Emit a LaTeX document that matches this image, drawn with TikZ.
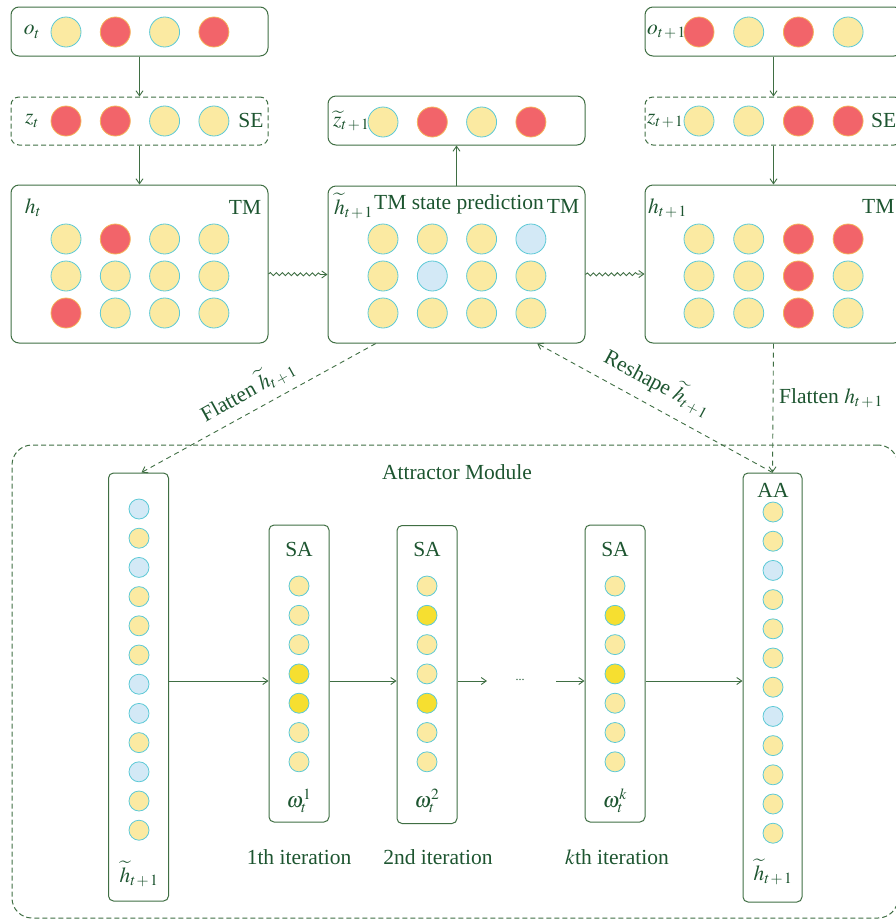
\documentclass[tikz,border=0pt]{standalone}
\usepackage{mathptmx}
\usepackage[no-math]{fontspec}
\setmainfont{Liberation Serif}
\DeclareMathSizes{21.5}{21.5}{15.5}{11}
\usetikzlibrary{arrows.meta,decorations.pathmorphing,calc}
\definecolor{lineg}{HTML}{3F6E43}
\definecolor{textg}{HTML}{1D5530}
\definecolor{yfill}{HTML}{FBEAA2}
\definecolor{cyb}{HTML}{5CC9D6}
\definecolor{rfill}{HTML}{F2646A}
\definecolor{rbord}{HTML}{F4B45A}
\definecolor{bfill}{HTML}{D3E9F6}
\definecolor{gyfill}{HTML}{F6DF30}
\newcommand{\tpo}{t\mkern1.5mu{+}\mkern1.5mu1}
\begin{document}
\begin{tikzpicture}[x=1pt,y=-1pt,
  font=\fontsize{21.5}{25}\selectfont, text=textg,
  box/.style={draw=lineg, line width=1pt, rounded corners=8pt, rectangle, inner sep=0pt},
  dbox/.style={box, dash pattern=on 5pt off 3pt},
  cy/.style={circle, draw=cyb, fill=yfill, line width=0.8pt, minimum size=30pt, inner sep=0pt},
  cr/.style={cy, fill=rfill, draw=rbord},
  cb/.style={cy, fill=bfill},
  sy/.style={cy, minimum size=20pt},
  sb/.style={cb, minimum size=20pt},
  sg/.style={cy, fill=gyfill, minimum size=20pt},
  arr/.style={draw=lineg, line width=0.9pt, -{Straight Barb[length=5pt,width=7pt]}},
  darr/.style={arr, dash pattern=on 5pt off 4pt},
  wavy/.style={arr, decorate, decoration={snake, amplitude=1.5pt, segment length=6pt, post length=5pt}},
  lbl/.style={inner sep=0pt}
]
\useasboundingbox (0,0) rectangle (896,922);
\clip (0,0) rectangle (896,922);

% ---------- top-left column ----------
\node[box, minimum width=257pt, minimum height=49pt] (ot) at (139.5,31.5) {};
\node[dbox, minimum width=257pt, minimum height=48pt] (zt) at (139.5,121) {};
\node[box, minimum width=257pt, minimum height=158pt] (ht) at (139.5,264) {};
% ---------- middle column ----------
\node[box, minimum width=257pt, minimum height=49pt] (zp) at (456.5,120.5) {};
\node[box, minimum width=257pt, minimum height=157pt] (hp) at (456.5,264.5) {};
% ---------- right column ----------
\node[box, minimum width=257pt, minimum height=49pt] (ot1) at (773.5,31.5) {};
\node[dbox, minimum width=257pt, minimum height=48pt] (zt1) at (773.5,121) {};
\node[box, minimum width=257pt, minimum height=158pt] (ht1) at (773.5,264) {};

% circles, rows of four
\foreach \c [count=\i] in {cy,cr,cy,cr} \node[\c] (oc\i) at ({66+49.3*(\i-1)},32) {};
\foreach \c [count=\i] in {cr,cr,cy,cy} \node[\c] (zc\i) at ({66+49.3*(\i-1)},121) {};
\foreach \c [count=\i] in {cy,cr,cy,cy} \node[\c] (hca\i) at ({66+49.3*(\i-1)},239) {};
\foreach \c [count=\i] in {cy,cy,cy,cy} \node[\c] (hcb\i) at ({66+49.3*(\i-1)},276) {};
\foreach \c [count=\i] in {cr,cy,cy,cy} \node[\c] (hcc\i) at ({66+49.3*(\i-1)},313) {};

\foreach \c [count=\i] in {cy,cr,cy,cr} \node[\c] (pzc\i) at ({383+49.3*(\i-1)},122) {};
\foreach \c [count=\i] in {cy,cy,cy,cb} \node[\c] (pha\i) at ({383+49.3*(\i-1)},239) {};
\foreach \c [count=\i] in {cy,cb,cy,cy} \node[\c] (phb\i) at ({383+49.3*(\i-1)},276) {};
\foreach \c [count=\i] in {cy,cy,cy,cy} \node[\c] (phc\i) at ({383+49.3*(\i-1)},313) {};

\foreach \c [count=\i] in {cr,cy,cr,cy} \node[\c] (roc\i) at ({699+49.7*(\i-1)},32) {};
\foreach \c [count=\i] in {cy,cy,cr,cr} \node[\c] (rzc\i) at ({699+49.7*(\i-1)},121) {};
\foreach \c [count=\i] in {cy,cy,cr,cr} \node[\c] (rha\i) at ({699+49.7*(\i-1)},239) {};
\foreach \c [count=\i] in {cy,cy,cr,cy} \node[\c] (rhb\i) at ({699+49.7*(\i-1)},276) {};
\foreach \c [count=\i] in {cy,cy,cr,cy} \node[\c] (rhc\i) at ({699+49.7*(\i-1)},313) {};

% labels top
\node[lbl] (lot) at (32,32) {$o_t$};
\node[lbl] (lzt) at (32,121) {$z_t$};
\node[lbl] (lse) at (251,120) {SE};
\node[lbl] (lht) at (33,208) {$h_t$};
\node[lbl] (ltm) at (245,207) {TM};
\node[lbl, anchor=west] (lzp) at (333,121) {$\widetilde{z}_{\tpo}$};
\node[lbl, anchor=west] (lhp) at (334,206) {$\widetilde{h}_{\tpo}$};
\node[lbl] (ltsp) at (459,204) {TM state prediction};
\node[lbl] (ltm2) at (563,206) {TM};
\node[lbl, anchor=west] (lot1) at (647,32) {$o_{\tpo}$};
\node[lbl, anchor=west] (lzt1) at (647,121) {$z_{\tpo}$};
\node[lbl, anchor=west] (lse1) at (871,120) {SE};
\node[lbl, anchor=west] (lht1) at (648,208) {$h_{\tpo}$};
\node[lbl, anchor=west] (ltm3) at (862,206) {TM};

% top connectors
\draw[arr] (ot.south) -- (zt.north);
\draw[arr] (zt.south) -- (ht.north);
\draw[arr] (hp.north) -- (zp.south);
\draw[arr] (ot1.south) -- (zt1.north);
\draw[arr] (zt1.south) -- (ht1.north);
\draw[wavy] ($(ht.east)+(0,10)$) -- ($(hp.west)+(0,10)$);
\draw[wavy] ($(hp.east)+(0,10)$) -- ($(ht1.west)+(0,10)$);

% ---------- attractor module ----------
\node[dbox, rounded corners=20pt, minimum width=886pt, minimum height=473pt] (am) at (455,681.5) {};
\node[lbl] (lam) at (457,472) {Attractor Module};

\node[box, rounded corners=5pt, minimum width=60pt, minimum height=428pt] (lc) at (138.5,687) {};
\node[box, rounded corners=5pt, minimum width=60pt, minimum height=297pt] (sa1) at (299,673.5) {};
\node[box, rounded corners=5pt, minimum width=60pt, minimum height=298pt] (sa2) at (427,674.5) {};
\node[box, rounded corners=5pt, minimum width=60pt, minimum height=297pt] (sak) at (615,673.5) {};
\node[box, rounded corners=5pt, minimum width=59pt, minimum height=429pt] (aa) at (772.5,687.5) {};

\foreach \c [count=\i] in {sb,sy,sb,sy,sy,sy,sb,sb,sy,sb,sy,sy} \node[\c] (lcc\i) at (139,{509+29.2*(\i-1)}) {};
\foreach \c [count=\i] in {sy,sy,sy,sg,sg,sy,sy} \node[\c] (s1c\i) at (299,{586+29.3*(\i-1)}) {};
\foreach \c [count=\i] in {sy,sg,sy,sy,sg,sy,sy} \node[\c] (s2c\i) at (427,{586+29.3*(\i-1)}) {};
\foreach \c [count=\i] in {sy,sg,sy,sg,sy,sy,sy} \node[\c] (skc\i) at (615,{586+29.3*(\i-1)}) {};
\foreach \c [count=\i] in {sy,sy,sb,sy,sy,sy,sy,sb,sy,sy,sy,sy} \node[\c] (aac\i) at (773,{512+29.2*(\i-1)}) {};

\node[lbl] (lsa1) at (299,549) {SA};
\node[lbl] (lsa2) at (427,549) {SA};
\node[lbl] (lsak) at (615,549) {SA};
\node[lbl] (laa) at (773,490) {AA};
\node[lbl] (lw1) at (299,801) {$\omega_t^1$};
\node[lbl] (lw2) at (427,801) {$\omega_t^2$};
\node[lbl] (lwk) at (615,801) {$\omega_t^k$};
\node[lbl] (lit1) at (299,857) {1th iteration};
\node[lbl] (lit2) at (438,857) {2nd iteration};
\node[lbl] (litk) at (617,857) {$k$th iteration};
\node[lbl] (llc) at (139,874) {$\widetilde{h}_{\tpo}$};
\node[lbl] (laah) at (773,872) {$\widetilde{h}_{\tpo}$};

% horizontal chain
\coordinate (hy) at (0,681);
\coordinate (d1) at (487,681);
\coordinate (d2) at (556,681);
\draw[arr] (lc.east |- hy) -- (sa1.west |- hy);
\draw[arr] (sa1.east |- hy) -- (sa2.west |- hy);
\draw[arr] (sa2.east |- hy) -- (d1);
\node[lbl, font=\fontsize{12}{14}\selectfont] (dots) at (520,680) {...};
\draw[arr] (d2) -- (sak.west |- hy);
\draw[arr] (sak.east |- hy) -- (aa.west |- hy);

% dashed connectors
\draw[darr] ($(hp.south west)!0.187!(hp.south east)$) -- ($(lc.north)+(3,0)$);
\draw[darr] (aa.north) -- ($(hp.south west)!0.813!(hp.south east)$);
\draw[darr] (ht1.south) -- (aa.north);
\node[lbl, rotate=29] (lfl) at (247,390) {Flatten $\widetilde{h}_{\tpo}$};
\node[lbl, rotate=-28] (lrs) at (658,382) {Reshape $\widetilde{h}_{\tpo}$};
\node[lbl, anchor=west] (lfh) at (779,398) {Flatten $h_{\tpo}$};
\end{tikzpicture}
\end{document}
